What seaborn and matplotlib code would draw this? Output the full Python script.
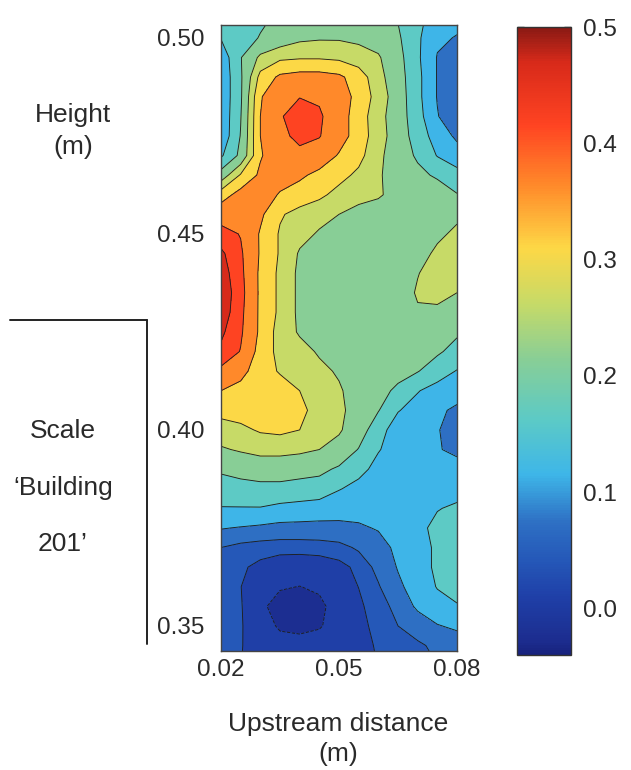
import numpy as np
import matplotlib
matplotlib.use("Agg")
import matplotlib.pyplot as plt
import seaborn as sns
from matplotlib.colors import LinearSegmentedColormap, Normalize
from matplotlib.cm import ScalarMappable
from matplotlib.lines import Line2D

# grille de mesure (m)
x_vals = [0.020, 0.025, 0.030, 0.035, 0.040, 0.045, 0.050, 0.055, 0.060, 0.065, 0.070, 0.075, 0.080]
y_vals = [0.505, 0.500, 0.495, 0.490, 0.485, 0.480, 0.475, 0.470, 0.465, 0.460, 0.455, 0.450,
          0.445, 0.440, 0.435, 0.430, 0.425, 0.420, 0.415, 0.410, 0.405, 0.400, 0.395, 0.390,
          0.385, 0.380, 0.375, 0.370, 0.365, 0.360, 0.355, 0.350, 0.345, 0.340]

# valeurs, une ligne par hauteur (du haut vers le bas)
z_rows = [
    [0.160, 0.170, 0.180, 0.195, 0.205, 0.210, 0.210, 0.205, 0.200, 0.185, 0.150, 0.115, 0.105],
    [0.140, 0.170, 0.190, 0.210, 0.230, 0.235, 0.235, 0.230, 0.220, 0.195, 0.145, 0.100, 0.090],
    [0.105, 0.185, 0.250, 0.275, 0.280, 0.280, 0.275, 0.260, 0.245, 0.205, 0.145, 0.090, 0.065],
    [0.100, 0.180, 0.300, 0.345, 0.355, 0.355, 0.345, 0.310, 0.255, 0.210, 0.150, 0.090, 0.058],
    [0.100, 0.180, 0.330, 0.380, 0.390, 0.385, 0.360, 0.320, 0.265, 0.215, 0.150, 0.090, 0.058],
    [0.100, 0.185, 0.335, 0.385, 0.430, 0.400, 0.360, 0.310, 0.255, 0.215, 0.155, 0.095, 0.060],
    [0.100, 0.190, 0.335, 0.375, 0.410, 0.395, 0.360, 0.310, 0.260, 0.215, 0.165, 0.115, 0.085],
    [0.130, 0.200, 0.330, 0.370, 0.375, 0.370, 0.330, 0.300, 0.250, 0.215, 0.180, 0.135, 0.110],
    [0.210, 0.290, 0.345, 0.360, 0.345, 0.320, 0.300, 0.275, 0.245, 0.220, 0.200, 0.180, 0.155],
    [0.310, 0.355, 0.365, 0.330, 0.310, 0.295, 0.270, 0.255, 0.245, 0.225, 0.215, 0.215, 0.190],
    [0.370, 0.365, 0.345, 0.290, 0.270, 0.255, 0.240, 0.225, 0.220, 0.220, 0.225, 0.230, 0.235],
    [0.410, 0.390, 0.330, 0.280, 0.255, 0.235, 0.225, 0.215, 0.215, 0.220, 0.230, 0.235, 0.245],
    [0.450, 0.400, 0.330, 0.280, 0.235, 0.220, 0.210, 0.205, 0.210, 0.220, 0.230, 0.245, 0.260],
    [0.465, 0.405, 0.325, 0.275, 0.230, 0.215, 0.205, 0.200, 0.205, 0.215, 0.238, 0.260, 0.260],
    [0.475, 0.410, 0.325, 0.275, 0.230, 0.215, 0.200, 0.195, 0.200, 0.215, 0.245, 0.255, 0.240],
    [0.470, 0.405, 0.325, 0.275, 0.230, 0.215, 0.200, 0.195, 0.195, 0.210, 0.235, 0.230, 0.215],
    [0.450, 0.400, 0.325, 0.265, 0.235, 0.215, 0.200, 0.195, 0.195, 0.200, 0.210, 0.210, 0.195],
    [0.430, 0.390, 0.315, 0.270, 0.255, 0.235, 0.215, 0.200, 0.195, 0.190, 0.200, 0.195, 0.170],
    [0.380, 0.350, 0.310, 0.280, 0.265, 0.250, 0.235, 0.215, 0.200, 0.200, 0.190, 0.160, 0.135],
    [0.335, 0.320, 0.315, 0.310, 0.285, 0.265, 0.245, 0.220, 0.200, 0.180, 0.140, 0.120, 0.110],
    [0.300, 0.305, 0.310, 0.305, 0.295, 0.270, 0.250, 0.220, 0.190, 0.140, 0.120, 0.100, 0.085],
    [0.265, 0.275, 0.290, 0.295, 0.285, 0.265, 0.245, 0.215, 0.155, 0.115, 0.110, 0.095, 0.075],
    [0.235, 0.245, 0.255, 0.255, 0.250, 0.240, 0.225, 0.185, 0.140, 0.120, 0.110, 0.095, 0.085],
    [0.195, 0.205, 0.210, 0.210, 0.205, 0.200, 0.180, 0.150, 0.125, 0.115, 0.110, 0.105, 0.105],
    [0.165, 0.170, 0.175, 0.175, 0.170, 0.165, 0.140, 0.125, 0.115, 0.110, 0.110, 0.115, 0.120],
    [0.135, 0.135, 0.135, 0.125, 0.120, 0.115, 0.110, 0.105, 0.105, 0.105, 0.110, 0.135, 0.145],
    [0.095, 0.090, 0.085, 0.080, 0.080, 0.080, 0.082, 0.088, 0.095, 0.110, 0.125, 0.150, 0.160],
    [0.055, 0.045, 0.040, 0.038, 0.038, 0.040, 0.045, 0.060, 0.080, 0.100, 0.120, 0.145, 0.160],
    [0.045, 0.032, 0.020, 0.010, 0.008, 0.010, 0.018, 0.035, 0.065, 0.095, 0.120, 0.145, 0.155],
    [0.040, 0.028, 0.010, -0.005, -0.008, -0.003, 0.012, 0.028, 0.052, 0.085, 0.110, 0.140, 0.150],
    [0.040, 0.030, -0.002, -0.018, -0.020, -0.014, 0.005, 0.022, 0.042, 0.065, 0.100, 0.120, 0.135],
    [0.040, 0.030, 0.008, -0.012, -0.015, -0.010, 0.005, 0.020, 0.035, 0.055, 0.070, 0.090, 0.100],
    [0.038, 0.029, 0.015, 0.005, 0.003, 0.005, 0.012, 0.020, 0.030, 0.040, 0.050, 0.062, 0.070],
    [0.037, 0.028, 0.018, 0.010, 0.008, 0.010, 0.015, 0.020, 0.028, 0.035, 0.045, 0.055, 0.060],
]

x_ticks = [0.02, 0.05, 0.08]
y_ticks = [0.35, 0.40, 0.45, 0.50]
cb_ticks = [0.0, 0.1, 0.2, 0.3, 0.4, 0.5]

# niveaux des contours
levels = [-0.04, -0.0075, 0.0275, 0.055, 0.0925, 0.1375, 0.1875, 0.24, 0.285, 0.335, 0.3925, 0.44, 0.5]

# palette type "jet" adoucie
vmin, vmax = -0.04, 0.5
cmap_pts = [(-0.04, '#17227c'), (-0.03, '#1c2c8e'), (0.010, '#1f40a8'), (0.041, '#2558b8'),
            (0.074, '#2e70c4'), (0.115, '#3eb6e8'), (0.162, '#5ccac6'), (0.214, '#88ce96'),
            (0.262, '#c6da68'), (0.310, '#fdd846'), (0.364, '#ff8a2a'), (0.416, '#ff4422'),
            (0.470, '#d82a1a'), (0.50, '#8a1a14')]
cmap = LinearSegmentedColormap.from_list(
    'jet_doux', [((v - vmin) / (vmax - vmin), c) for v, c in cmap_pts])
norm = Normalize(vmin=vmin, vmax=vmax)

sns.set_style("white")
plt.rcParams['font.family'] = ['Liberation Sans', 'DejaVu Sans']
txt_col = '#2a2a2a'

fig = plt.figure(figsize=(6.31, 7.70), dpi=100)
ax = fig.add_axes([221 / 631, 1 - 651 / 770, 236 / 631, 626 / 770])
cax = fig.add_axes([517 / 631, 1 - 655 / 770, 54 / 631, 628 / 770])

X, Y = np.meshgrid(x_vals, y_vals[::-1])
Z = np.array(z_rows)[::-1]

ax.contourf(X, Y, Z, levels=levels, cmap=cmap, norm=norm)
ax.contour(X, Y, Z, levels=levels[1:-1], colors='#1e1e1e', linewidths=0.65)

ax.set_xlim(0.02, 0.08)
ax.set_ylim(0.3436, 0.5033)
ax.set_xticks(x_ticks)
ax.set_xticklabels(['%.2f' % v for v in x_ticks])
ax.set_yticks(y_ticks)
ax.set_yticklabels(['%.2f' % v for v in y_ticks])
ax.tick_params(length=0, labelsize=17.5, labelcolor=txt_col)
ax.tick_params(axis='y', pad=12)
ax.tick_params(axis='x', pad=6)
for sp in ax.spines.values():
    sp.set_color('#444444')
    sp.set_linewidth(1.0)

# barre de couleur
sm = ScalarMappable(norm=norm, cmap=cmap)
cb = fig.colorbar(sm, cax=cax)
cb.set_ticks(cb_ticks)
cb.set_ticklabels(['%.1f' % v for v in cb_ticks])
cax.yaxis.set_minor_locator(matplotlib.ticker.FixedLocator([0.05, 0.15, 0.25, 0.35, 0.45]))
cax.tick_params(which='both', direction='in', left=True, right=True, length=5, width=1,
                color='#333333', labelsize=17.5, labelcolor=txt_col, pad=9)
cb.outline.set_edgecolor('#333333')
cb.outline.set_linewidth(1.0)

# textes et repere du batiment
fs = 19
fig.text(73 / 631, 1 - 115 / 770, 'Height', ha='center', va='center', fontsize=fs, color=txt_col)
fig.text(73 / 631, 1 - 147 / 770, '(m)', ha='center', va='center', fontsize=fs, color=txt_col)
fig.text(63 / 631, 1 - 431 / 770, 'Scale', ha='center', va='center', fontsize=fs, color=txt_col)
fig.text(63 / 631, 1 - 488 / 770, '\u2018Building', ha='center', va='center', fontsize=fs, color=txt_col)
fig.text(63 / 631, 1 - 544 / 770, '201\u2019', ha='center', va='center', fontsize=fs, color=txt_col)
fig.text(338 / 631, 1 - 724 / 770, 'Upstream distance', ha='center', va='center', fontsize=fs, color=txt_col)
fig.text(338 / 631, 1 - 754 / 770, '(m)', ha='center', va='center', fontsize=fs, color=txt_col)

fig.add_artist(Line2D([10 / 631, 147 / 631], [1 - 320 / 770, 1 - 320 / 770], color='#222222', lw=1.4))
fig.add_artist(Line2D([147 / 631, 147 / 631], [1 - 320 / 770, 1 - 644 / 770], color='#222222', lw=1.4))

fig.savefig('out.png', dpi=100)
